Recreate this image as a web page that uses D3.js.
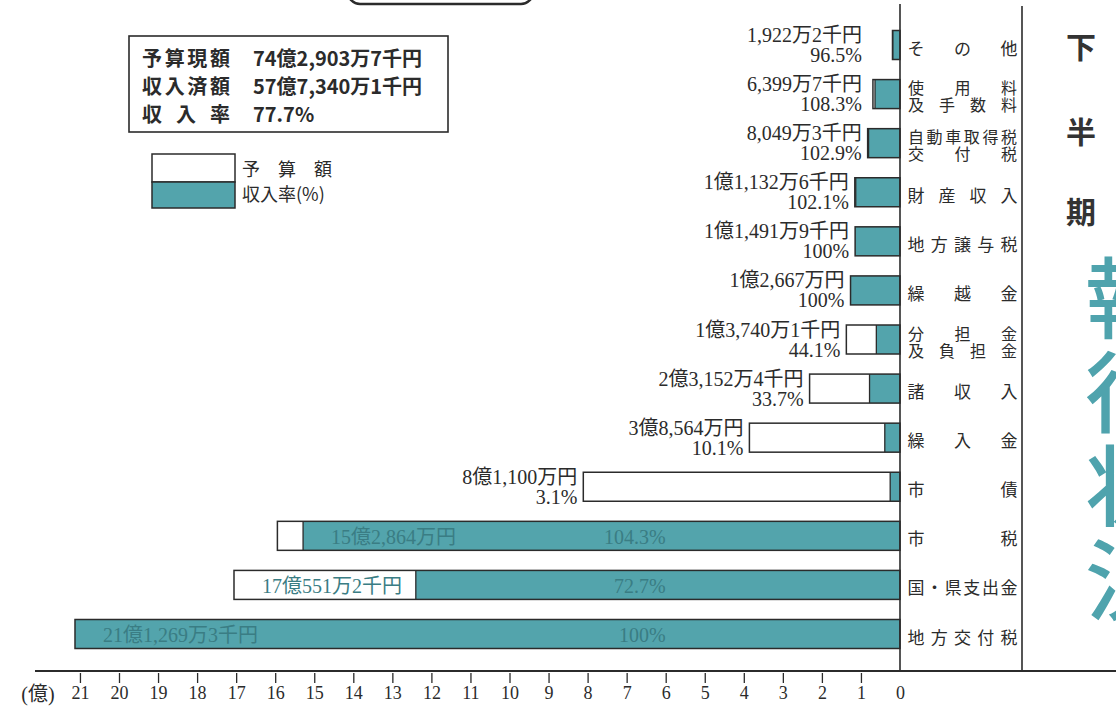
<!DOCTYPE html>
<html><head><meta charset="utf-8">
<script src="https://cdn.jsdelivr.net/npm/d3@7"></script>
<style>
html,body{margin:0;padding:0;background:#fff;}
svg{display:block;}
</style></head>
<body>
<svg id="chart" width="1116" height="709"></svg>
<script>
// ---- data ----
const categories = ["その他","使用料及手数料","自動車取得税交付税","財産収入","地方譲与税","繰越金","分担金及負担金","諸収入","繰入金","市債","市税","国・県支出金","地方交付税"];
const categoryLines = [["その他"],["使用料","及手数料"],["自動車取得税","交付税"],["財産収入"],["地方譲与税"],["繰越金"],["分担金","及負担金"],["諸収入"],["繰入金"],["市債"],["市税"],["国・県支出金"],["地方交付税"]];
const budget = [0.19222, 0.63997, 0.80493, 1.13326, 1.14919, 1.2667, 1.37401, 2.31524, 3.8564, 8.11, 15.2864, 17.05512, 21.12693]; // 億円
const rate = [96.5, 108.3, 102.9, 102.1, 100, 100, 44.1, 33.7, 10.1, 3.1, 104.3, 72.7, 100]; // %
const amountLabels = ["1,922万2千円","6,399万7千円","8,049万3千円","1億1,132万6千円","1億1,491万9千円","1億2,667万円","1億3,740万1千円","2億3,152万4千円","3億8,564万円","8億1,100万円","15億2,864万円","17億551万2千円","21億1,269万3千円"];
const rateLabels = ["96.5%","108.3%","102.9%","102.1%","100%","100%","44.1%","33.7%","10.1%","3.1%","104.3%","72.7%","100%"];
const tickValues = d3.range(0, 22);
const summaryLabels = ["予算現額","収入済額","収 入 率"];
const summaryValues = ["74億2,903万7千円","57億7,340万1千円","77.7%"];
const legendLabels = ["予　算　額","収入率(%)"];
const sideTitle = ["下","半","期"];
const bigTitle = ["執","行","状","況"];

// ---- drawing ----
const svg = d3.select("#chart");
const TEAL = "#53a4ac", INK = "#2b2b2b";
const SERIF = "'Liberation Serif','Noto Sans CJK JP',serif";
const SANS = "'Noto Sans CJK JP',sans-serif";

const x = d3.scaleLinear().domain([0, 21]).range([900, 900 - 21 * 39.05]);
const y = d3.scalePoint().domain(categories).range([45, 634]);
const barH = 29;

const rows = categories.map((c, i) => {
  const rec = budget[i] * rate[i] / 100;
  return {c, i, budget: budget[i], rate: rate[i], outer: Math.max(budget[i], rec), inner: Math.min(budget[i], rec)};
});

// top rounded box (cut off)
svg.append("rect").attr("x", 348).attr("y", -40).attr("width", 185).attr("height", 44)
  .attr("rx", 12).attr("fill", "none").attr("stroke", INK).attr("stroke-width", 2.5);

// bars
const g = svg.append("g");
rows.forEach(r => {
  const cy = y(r.c);
  g.append("rect").attr("x", x(r.outer)).attr("y", cy - barH/2)
    .attr("width", x(0) - x(r.outer)).attr("height", barH).attr("fill", "#fff");
  g.append("rect").attr("x", x(r.inner)).attr("y", cy - barH/2)
    .attr("width", x(0) - x(r.inner)).attr("height", barH).attr("fill", TEAL);
  if (r.inner < r.outer) {
    g.append("line").attr("x1", x(r.inner)).attr("x2", x(r.inner))
      .attr("y1", cy - barH/2).attr("y2", cy + barH/2).attr("stroke", INK).attr("stroke-width", 1.3);
  }
  g.append("rect").attr("x", x(r.outer)).attr("y", cy - barH/2)
    .attr("width", x(0) - x(r.outer)).attr("height", barH)
    .attr("fill", "none").attr("stroke", INK).attr("stroke-width", 1.5);

  if (r.budget > 10) {
    g.append("text").attr("x", x(r.budget) + 28).attr("y", cy + 1)
      .attr("dominant-baseline", "central").attr("font-family", SERIF).attr("font-size", 20)
      .attr("fill", "#3a7d84").text(amountLabels[r.i]);
    g.append("text").attr("x", x(6)).attr("y", cy + 1).attr("text-anchor", "end")
      .attr("dominant-baseline", "central").attr("font-family", SERIF).attr("font-size", 20)
      .attr("fill", "#3a7d84").text(rateLabels[r.i]);
  } else {
    const rx = Math.min(x(r.outer) - 6, 862);
    g.append("text").attr("x", rx).attr("y", cy - 10).attr("text-anchor", "end")
      .attr("dominant-baseline", "central").attr("font-family", SERIF).attr("font-size", 20)
      .attr("fill", INK).text(amountLabels[r.i]);
    g.append("text").attr("x", rx).attr("y", cy + 10).attr("text-anchor", "end")
      .attr("dominant-baseline", "central").attr("font-family", SERIF).attr("font-size", 20)
      .attr("fill", INK).text(rateLabels[r.i]);
  }

  // category labels, distributed across the column
  const lines = categoryLines[r.i];
  const offs = lines.length === 1 ? [2] : [-7, 10];
  lines.forEach((ln, li) => {
    const chars = Array.from(ln);
    const x0 = 916, x1 = 1009;
    chars.forEach((ch, k) => {
      const cx = chars.length === 1 ? x0 : x0 + (x1 - x0) * k / (chars.length - 1);
      g.append("text").attr("x", cx).attr("y", cy + offs[li]).attr("text-anchor", "middle")
        .attr("dominant-baseline", "central").attr("font-family", SANS)
        .attr("font-size", lines.length === 1 ? 17 : 16)
        .attr("fill", INK).text(ch);
    });
  });
});

// vertical lines and axis line
svg.append("line").attr("x1", 900).attr("x2", 900).attr("y1", 4).attr("y2", 671).attr("stroke", INK).attr("stroke-width", 1.6);
svg.append("line").attr("x1", 1022).attr("x2", 1022).attr("y1", 6).attr("y2", 671).attr("stroke", INK).attr("stroke-width", 1.6);
svg.append("line").attr("x1", 35).attr("x2", 1116).attr("y1", 671).attr("y2", 671).attr("stroke", INK).attr("stroke-width", 2.2);

// axis
const ax = svg.append("g").attr("transform", "translate(0,673)")
  .call(d3.axisBottom(x).tickValues(tickValues).tickSize(10).tickPadding(3).tickFormat(d3.format("d")));
ax.select(".domain").remove();
ax.selectAll(".tick line").attr("stroke", INK).attr("stroke-width", 1.3)
  .filter(d => d === 0).remove();
ax.selectAll(".tick text").attr("font-family", SERIF).attr("font-size", 18).attr("fill", INK);
svg.append("text").attr("x", 38).attr("y", 694).attr("text-anchor", "middle")
  .attr("dominant-baseline", "central").attr("font-family", SERIF).attr("font-size", 20)
  .attr("fill", INK).text("(億)");

// summary box
svg.append("rect").attr("x", 129).attr("y", 36).attr("width", 319).attr("height", 96)
  .attr("fill", "#fff").attr("stroke", INK).attr("stroke-width", 1.6);
summaryLabels.forEach((s, i) => {
  const yy = 57 + i * 28;
  svg.append("text").attr("x", 142).attr("y", yy).attr("dominant-baseline", "central")
    .attr("font-family", SANS).attr("font-weight", 700).attr("font-size", 20)
    .attr("textLength", 88).attr("lengthAdjust", "spacing").attr("fill", INK).text(s);
  svg.append("text").attr("x", 253).attr("y", yy).attr("dominant-baseline", "central")
    .attr("font-family", SANS).attr("font-weight", 700).attr("font-size", 20)
    .attr("fill", INK).text(summaryValues[i]);
});

// legend
svg.append("rect").attr("x", 152).attr("y", 154).attr("width", 83).attr("height", 28)
  .attr("fill", "#fff").attr("stroke", INK).attr("stroke-width", 1.5);
svg.append("rect").attr("x", 152).attr("y", 182).attr("width", 83).attr("height", 26)
  .attr("fill", TEAL).attr("stroke", INK).attr("stroke-width", 1.5);
legendLabels.forEach((s, i) => {
  svg.append("text").attr("x", 242).attr("y", 168 + i * 25).attr("dominant-baseline", "central")
    .attr("font-family", SANS).attr("font-size", 18).attr("fill", INK).text(s);
});

// right side title
sideTitle.forEach((s, i) => {
  svg.append("text").attr("x", 1081).attr("y", [45, 130, 210][i]).attr("text-anchor", "middle")
    .attr("dominant-baseline", "central").attr("font-family", SANS).attr("font-weight", 700)
    .attr("font-size", 30).attr("fill", "#333").text(s);
});
bigTitle.forEach((s, i) => {
  svg.append("text").attr("x", 1085).attr("y", 292 + i * 94).attr("dominant-baseline", "central")
    .attr("font-family", SANS).attr("font-weight", 500).attr("font-size", 88).attr("fill", "#4fa3ad").text(s);
});
</script>
</body></html>
